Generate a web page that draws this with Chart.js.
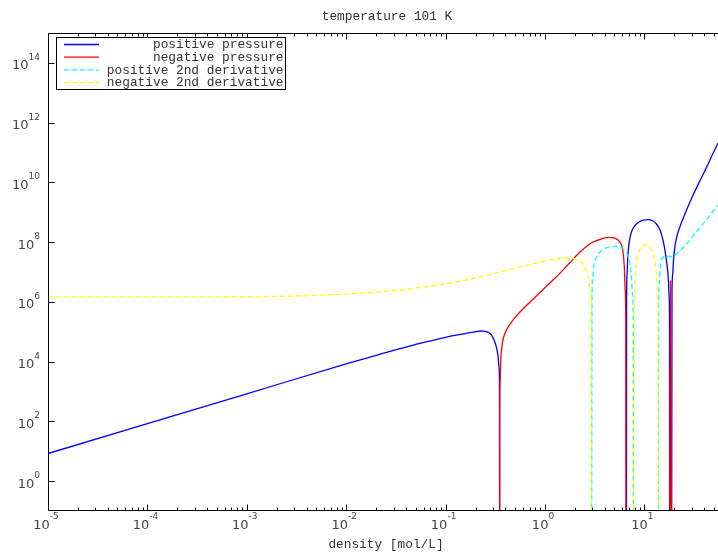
<!DOCTYPE html>
<html lang="en">
<head>
<meta charset="UTF-8">
<title>temperature 101 K</title>
<script src="https://cdn.jsdelivr.net/npm/chart.js@4.4.1/dist/chart.umd.min.js"></script>
<style>
  html, body { margin: 0; padding: 0; background: #fff; }
  #wrap { position: relative; width: 718px; height: 553px; }
</style>
</head>
<body>
<div id="wrap"><canvas id="eosChart"></canvas></div>
<script>
// density in mol/L, pressure in Pa.
// 1e-6 marks a sign change (curve runs down out of the plot), null breaks the line.
const posPressRho = [1e-5, 1e-4, 1e-3, 0.01, 0.0219, 0.0348, 0.0552, 0.0879, 0.124, 0.157, 0.184, 0.207, 0.227, 0.249, 0.270, 0.289, 0.307, 0.325, 0.337, 0.344, 0.348, 0.350,
                     1.5,
                     6.60, 6.62, 6.68, 6.79, 6.95, 7.17, 7.50, 8.04, 8.83, 9.79, 10.87, 12.06, 13.23, 14.36, 15.21, 15.93, 16.50, 17.00, 17.44, 17.72, 17.88, 17.97,
                     18.3,
                     18.74, 18.96, 19.22, 19.63, 20.32, 21.28, 22.81, 24.62, 27.46, 31.05, 36.25, 42.36, 47.87, 55];
const posPress    = [8.4, 84, 840, 8.4e3, 1.77e4, 2.72e4, 4.09e4, 5.87e4, 7.52e4, 8.71e4, 9.6e4, 1.02e5, 1.06e5, 1.03e5, 9.4e4, 7.8e4, 5.3e4, 2.96e4, 1.54e4, 7.1e3, 2.4e3, 1e-6,
                     null,
                     1e-6, 1.16e6, 7.9e6, 2.82e7, 7.1e7, 1.43e8, 2.44e8, 3.6e8, 4.71e8, 5.46e8, 5.63e8, 5.2e8, 4.04e8, 2.54e8, 1.37e8, 6.6e7, 3.05e7, 1.41e7, 5.2e6, 1.63e6, 3.5e5, 1e-6,
                     null,
                     1e-6, 2.5e6, 7.9e6, 2.55e7, 7.5e7, 1.61e8, 3.33e8, 6.4e8, 1.55e9, 3.91e9, 1.15e10, 3.3e10, 7.9e10, 2.07e11];

const negPressRho = [0.350, 0.351, 0.354, 0.359, 0.368, 0.382, 0.405, 0.445, 0.499, 0.560, 0.707, 0.891, 1.12, 1.42, 1.78, 2.25, 2.65, 3.04, 3.66, 4.40, 4.95, 5.43, 5.82, 6.05, 6.28, 6.41, 6.49, 6.53,
                     12,
                     17.97, 18.3, 18.74];
const negPress    = [1e-6, 111, 2.4e3, 1.13e4, 3.08e4, 6.2e4, 1.06e5, 1.81e5, 2.99e5, 4.57e5, 9.9e5, 2.06e6, 4.28e6, 9.2e6, 2.08e7, 4.67e7, 7.4e7, 1.01e8, 1.27e8, 1.45e8, 1.39e8, 1.17e8, 8.6e7, 5.5e7, 1.5e7, 2.5e6, 2.5e5, 1e-6,
                     null,
                     1e-6, 5.0e6, 1e-6];

const posD2Rho = [2.94, 2.97, 3.02, 3.11, 3.31, 3.58, 3.92, 4.40, 4.95, 5.49, 6.02, 6.53, 6.92, 7.20, 7.42, 7.59, 7.72, 7.77,
                  10,
                  13.77, 13.93, 14.16, 14.45, 14.86, 15.49, 16.76, 18.10, 19.40, 20.32, 21.78, 24.62, 27.46, 31.05, 36.25, 42.36, 47.87, 55];
const posD2    = [1e-6, 1.16e6, 6.8e6, 1.71e7, 3.18e7, 4.67e7, 5.9e7, 6.9e7, 7.2e7, 7.1e7, 6.2e7, 4.67e7, 3.05e7, 1.71e7, 6.3e6, 1.7e6, 2.5e5, 1e-6,
                  null,
                  1e-6, 1.16e6, 5.4e6, 1.52e7, 2.62e7, 3.1e7, 3.42e7, 3.3e7, 3.42e7, 3.7e7, 4.5e7, 6.6e7, 1.0e8, 1.66e8, 3.08e8, 5.7e8, 9.8e8, 1.74e9];

const negD2Rho = [1e-5, 1e-4, 1.03e-3, 3.43e-3, 8.67e-3, 0.0219, 0.0438, 0.0879, 0.176, 0.352, 0.560, 0.891, 1.26, 1.59, 1.87, 2.15, 2.36, 2.55, 2.74, 2.87, 2.92, 2.94,
                  5,
                  7.77, 7.90, 8.04, 8.33, 8.72, 9.24, 9.79, 10.38, 11.0, 11.65, 12.35, 12.88, 13.23, 13.48, 13.67, 13.77];
const negD2    = [1.46e6, 1.46e6, 1.50e6, 1.59e6, 1.79e6, 2.17e6, 2.75e6, 3.8e6, 5.73e6, 9.98e6, 1.46e7, 2.14e7, 2.72e7, 2.94e7, 2.87e7, 2.52e7, 1.98e7, 1.24e7, 6.2e6, 2.3e6, 5.6e5, 1e-6,
                  null,
                  1e-6, 1.16e6, 6.3e6, 2.0e7, 4.3e7, 6.6e7, 7.9e7, 8.1e7, 7.4e7, 5.65e7, 3.56e7, 1.71e7, 7.3e6, 2.5e6, 5.3e5, 1e-6];

const seriesLabels = ['positive pressure', 'negative pressure', 'positive 2nd derivative', 'negative 2nd derivative'];
const seriesColors = ['#0000ff', '#ff0000', '#00ffff', '#ffff00'];
const xTickExp = [-5, -4, -3, -2, -1, 0, 1];
const yTickExp = [0, 2, 4, 6, 8, 10, 12, 14];

const MONO = '"Liberation Mono", "DejaVu Sans Mono", monospace';
const SANS = '"DejaVu Sans", sans-serif';
const DASH = [5, 3];

function toPoints(xs, ys) {
    return xs.map((x, i) => ({ x: x, y: ys[i] }));
}

function series(i, xs, ys, dashed) {
    return {
        label: seriesLabels[i],
        data: toPoints(xs, ys),
        borderColor: seriesColors[i],
        borderWidth: 1.3,
        borderDash: dashed ? DASH : [],
        pointRadius: 0,
        cubicInterpolationMode: 'monotone',
        spanGaps: false,
        fill: false,
        order: 4 - i
    };
}

// "10" with a raised exponent
function drawPow(ctx, exp, x, baseY, align) {
    const base = '10', sup = String(exp);
    ctx.font = '13px ' + SANS;
    const wb = ctx.measureText(base).width;
    ctx.font = '9px ' + SANS;
    const ws = ctx.measureText(sup).width;
    const left = align === 'right' ? x - wb - ws : x - (wb + ws) / 2;
    ctx.textAlign = 'left';
    ctx.textBaseline = 'alphabetic';
    ctx.font = '13px ' + SANS;
    ctx.fillText(base, left, baseY);
    ctx.font = '9px ' + SANS;
    ctx.fillText(sup, left + wb, baseY - 9.5);
}

const framePlugin = {
    id: 'frame',
    afterDraw(chart) {
        const ctx = chart.ctx, a = chart.chartArea;
        const xs = chart.scales.x, ys = chart.scales.y;
        const L = Math.round(a.left) + 0.5, T = Math.round(a.top) + 0.5, B = Math.round(a.bottom) - 0.5;
        ctx.save();
        ctx.strokeStyle = '#000';
        ctx.lineWidth = 1;
        ctx.beginPath();
        ctx.moveTo(a.right, T); ctx.lineTo(L, T); ctx.lineTo(L, B); ctx.lineTo(a.right, B);
        xTickExp.concat([2]).forEach(e => {
            for (let m = 1; m <= 9; m++) {
                const v = m * Math.pow(10, e);
                if (v > xs.max) break;
                const px = Math.round(xs.getPixelForValue(v)) + 0.5;
                const len = m === 1 ? 6 : 3;
                ctx.moveTo(px, B); ctx.lineTo(px, B - len);
                ctx.moveTo(px, T); ctx.lineTo(px, T + len);
            }
        });
        yTickExp.forEach(e => {
            const py = Math.round(ys.getPixelForValue(Math.pow(10, e))) + 0.5;
            ctx.moveTo(L, py); ctx.lineTo(L + 6, py);
        });
        ctx.stroke();

        // tick labels
        ctx.fillStyle = '#444';
        xTickExp.forEach(e => {
            const px = xs.getPixelForValue(Math.pow(10, e));
            drawPow(ctx, e, px - 2, a.bottom + 17.5, 'center');
        });
        yTickExp.forEach(e => {
            const py = ys.getPixelForValue(Math.pow(10, e));
            drawPow(ctx, e, a.left - 8, py + 6.5, 'right');
        });

        // titles
        const cx = (a.left + a.right) / 2;
        ctx.fillStyle = '#333';
        ctx.font = '12.8px ' + MONO;
        ctx.textAlign = 'center';
        ctx.textBaseline = 'alphabetic';
        ctx.fillText('temperature 101 K', cx + 4, 19.5);
        ctx.fillText('density [mol/L]', cx + 3, 548);

        // key box
        ctx.fillStyle = '#fff';
        ctx.fillRect(57, 38, 228, 51);
        ctx.strokeStyle = '#000';
        ctx.strokeRect(56.5, 37.5, 229, 52);
        seriesLabels.forEach((lab, i) => {
            const ym = 44.5 + i * 12.7;
            ctx.strokeStyle = seriesColors[i];
            ctx.lineWidth = 1.3;
            ctx.setLineDash(i >= 2 ? DASH : []);
            ctx.beginPath();
            ctx.moveTo(64, ym); ctx.lineTo(99, ym);
            ctx.stroke();
            ctx.setLineDash([]);
            ctx.fillStyle = '#333';
            ctx.textAlign = 'right';
            ctx.font = '12.8px ' + MONO;
            ctx.fillText(lab, 283.5, ym + 3.8);
        });
        ctx.restore();
    }
};

new Chart(document.getElementById('eosChart'), {
    type: 'line',
    data: {
        datasets: [
            series(0, posPressRho, posPress, false),
            series(1, negPressRho, negPress, false),
            series(2, posD2Rho, posD2, true),
            series(3, negD2Rho, negD2, true)
        ]
    },
    options: {
        responsive: true,
        maintainAspectRatio: false,
        animation: false,
        events: [],
        layout: { padding: { top: 33, right: 0, bottom: 0, left: 0 } },
        plugins: {
            legend: { display: false },
            title: { display: false },
            tooltip: { enabled: false }
        },
        scales: {
            x: {
                type: 'logarithmic',
                min: 1e-5,
                max: 55,
                grid: { display: false },
                border: { display: false },
                ticks: { display: false },
                afterFit: s => { s.height = 42; }
            },
            y: {
                type: 'logarithmic',
                min: 0.1,
                max: 1e15,
                grid: { display: false },
                border: { display: false },
                ticks: { display: false },
                afterFit: s => { s.width = 48; }
            }
        }
    },
    plugins: [framePlugin]
});
</script>
</body>
</html>
